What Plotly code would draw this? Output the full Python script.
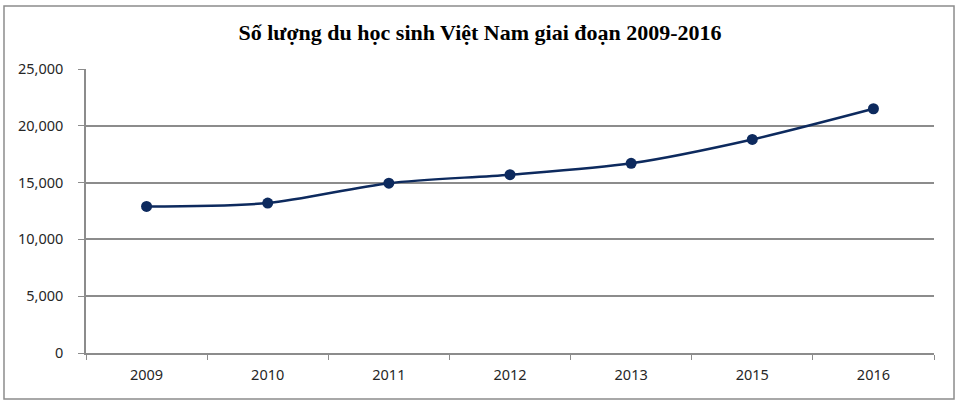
import plotly.graph_objects as go

years = ["2009", "2010", "2011", "2012", "2013", "2015", "2016"]
students = [12900, 13200, 14950, 15700, 16700, 18800, 21500]

grid_color = "#8c8c8c"
line_color = "#0d2a5e"

fig = go.Figure()

fig.add_trace(
    go.Scatter(
        x=years,
        y=students,
        mode="lines+markers",
        line=dict(color=line_color, width=2.5, shape="spline", smoothing=0.8),
        marker=dict(color=line_color, size=11),
        showlegend=False,
    )
)

fig.update_layout(
    width=960,
    height=405,
    margin=dict(l=86, r=26, t=69, b=52),
    paper_bgcolor="white",
    plot_bgcolor="white",
    title=dict(
        text="<b>Số lượng du học sinh Việt Nam giai đoạn 2009-2016</b>",
        font=dict(family="Liberation Serif", size=22, color="black"),
        x=0.5,
        xanchor="center",
        y=0.92,
        yanchor="middle",
    ),
    font=dict(family="Noto Sans", size=14.5, color="#262626"),
)

fig.update_xaxes(
    type="category",
    range=[-0.5, len(years) - 0.5],
    tickson="boundaries",
    ticks="outside",
    ticklen=5,
    tickcolor=grid_color,
    ticklabelstandoff=8,
    showline=True,
    linecolor=grid_color,
    linewidth=1.5,
    showgrid=False,
)
fig.update_yaxes(
    range=[0, 25000],
    dtick=5000,
    tickformat=",",
    ticks="outside",
    ticklen=6,
    tickcolor=grid_color,
    ticklabelstandoff=12,
    showline=True,
    linecolor=grid_color,
    linewidth=1.5,
    showgrid=True,
    gridcolor=grid_color,
    gridwidth=1.5,
    zeroline=False,
)

# khung viền ngoài của biểu đồ
fig.add_shape(
    type="rect",
    xref="paper",
    yref="paper",
    x0=-0.0967,
    x1=1.0236,
    y0=-0.162,
    y1=1.222,
    line=dict(color="#8c8c8c", width=1.5),
)

# bỏ lề mặc định của trang để biểu đồ nằm sát góc trên trái
fig.write_html(
    "out.html",
    config={"displayModeBar": False},
    post_script="document.body.style.margin='0';",
)
